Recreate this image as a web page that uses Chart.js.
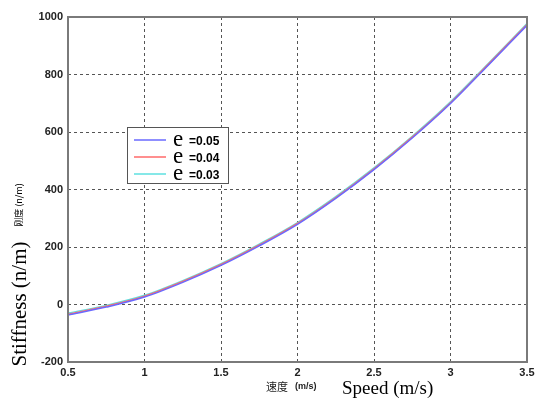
<!DOCTYPE html>
<html><head><meta charset="utf-8">
<script src="https://cdn.jsdelivr.net/npm/chart.js@4/dist/chart.umd.min.js"></script>
<style>html,body{margin:0;padding:0;background:#fff}#wrap{width:535px;height:401px}</style>
</head><body><div id="wrap"><canvas id="c" width="535" height="401"></canvas></div>
<script>
const speeds = [0.5,0.75,1,1.25,1.5,1.75,2,2.25,2.5,2.75,3,3.25,3.5];
const e005 = [-37,-9,26,77,136,204,279,369,469,579,699,834,971];
const e004 = [-34,-6,29,80,139,207,282,372,472,582,702,837,974];
const e003 = [-30,-3,32,83,142,210,285,375,475,585,705,840,977];
const seriesNames = ['e =0.05','e =0.04','e =0.03'];
const seriesColors = ['#6a6aff','#ff6a6a','#5ee0e0'];
const xTicks = [0.5,1,1.5,2,2.5,3,3.5];
const yTicks = [-200,0,200,400,600,800,1000];

const mk = (arr)=>speeds.map((s,i)=>({x:s,y:arr[i]}));
const sets = [e005,e004,e003];

const extras = {
  id:'extras',
  afterDraw(chart){
    const c = chart.ctx, a = chart.chartArea;
    c.save();
    c.strokeStyle='#7a7a7a'; c.lineWidth=2; c.setLineDash([]);
    c.strokeRect(a.left,a.top,a.right-a.left,a.bottom-a.top);
    const lx=127, ly=127, lw=101, lh=56;
    c.fillStyle='#fff'; c.fillRect(lx,ly,lw,lh);
    c.strokeStyle='#555'; c.lineWidth=1; c.strokeRect(lx+0.5,ly+0.5,lw,lh);
    for(let i=0;i<3;i++){
      const yy = ly+13+i*17;
      c.strokeStyle=seriesColors[i]; c.lineWidth=1.5;
      c.beginPath(); c.moveTo(lx+7,yy); c.lineTo(lx+39,yy); c.stroke();
      c.fillStyle='#000';
      c.font='23px "Liberation Serif"'; c.textBaseline='alphabetic'; c.textAlign='left';
      c.fillText('e', lx+46, yy+6);
      c.font='bold 12px "Liberation Sans"';
      c.fillText(seriesNames[i].slice(1).trim(), lx+62, yy+5);
    }
    c.fillStyle='#000';
    c.font='21px "Liberation Serif"'; c.textAlign='center'; c.textBaseline='middle';
    c.save(); c.translate(20,304); c.rotate(-Math.PI/2); c.fillText('Stiffness (n/m)',0,0); c.restore();
    c.font='9px "Noto Sans CJK SC"';
    c.save(); c.translate(19,205); c.rotate(-Math.PI/2); c.fillText('刚度 (n/m)',0,0); c.restore();
    c.fillStyle='#222';
    c.font='11px "Noto Sans CJK SC"'; c.textAlign='left';
    c.fillText('速度',266,387);
    c.font='bold 9px "Liberation Sans"';
    c.fillText('(m/s)',295,387);
    c.fillStyle='#000';
    c.font='19px "Liberation Serif"';
    c.fillText('Speed (m/s)',342,389);
    c.restore();
  }
};

new Chart(document.getElementById('c'),{
  type:'line',
  data:{datasets:sets.map((arr,i)=>({label:seriesNames[i],data:mk(arr),borderColor:seriesColors[i],borderWidth:1.5,pointRadius:0,fill:false,cubicInterpolationMode:'monotone'}))},
  options:{
    responsive:false,animation:false,
    layout:{padding:{top:17,right:8,left:0,bottom:0}},
    plugins:{legend:{display:false},tooltip:{enabled:false}},
    scales:{
      x:{type:'linear',min:0.5,max:3.5,
        afterBuildTicks(s){s.ticks=xTicks.map(v=>({value:v}));},
        afterFit(s){s.height=39;s.paddingLeft=0;s.paddingRight=0;},
        grid:{color:'#555',lineWidth:1,tickLength:0,drawTicks:false},
        border:{display:false,dash:[3,3]},
        ticks:{color:'#222',font:{family:'Liberation Sans',size:11,weight:'bold'},padding:4,maxRotation:0,callback:v=>String(v)}
      },
      y:{type:'linear',min:-200,max:1000,
        afterBuildTicks(s){s.ticks=yTicks.map(v=>({value:v}));},
        afterFit(s){s.width=68;s.paddingTop=0;s.paddingBottom=0;},
        grid:{color:'#555',lineWidth:1,tickLength:0,drawTicks:false},
        border:{display:false,dash:[3,3]},
        ticks:{color:'#222',font:{family:'Liberation Sans',size:11,weight:'bold'},padding:5,callback:v=>String(v)}
      }
    }
  },
  plugins:[extras]
});
</script></body></html>
